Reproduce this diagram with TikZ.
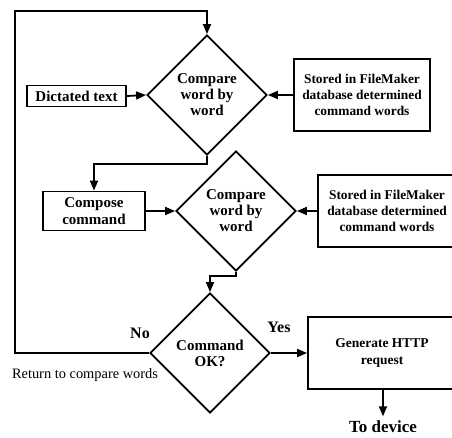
\documentclass[tikz,border=0pt]{standalone}
\usepackage{fontspec}
\setmainfont{Liberation Serif}
\usetikzlibrary{arrows.meta,shapes.geometric}
\begin{document}
\begin{tikzpicture}[x=1pt,y=-1pt,
  line width=1.8pt,
  arr/.style={-{Triangle[length=10pt,width=8pt]}},
  dia/.style={diamond,draw,inner sep=0pt,minimum width=120pt,minimum height=120pt,align=center,font=\fontsize{15}{16}\selectfont\bfseries},
  bx/.style={draw,inner sep=0pt,align=center},
  bigt/.style={font=\fontsize{15}{17}\selectfont\bfseries},
  smallt/.style={font=\fontsize{13.4}{16}\selectfont\bfseries},
  lbl/.style={inner sep=0pt,font=\fontsize{16}{18}\selectfont\bfseries}]
\useasboundingbox (0,0) rectangle (452,438);
\clip (0,0) rectangle (452,438);
% diamonds
\node[dia] (d1) at (207,95) {Compare\\word by\\word};
\node[dia] (d2) at (236,211) {Compare\\word by\\word};
\node[dia] (d3) at (210,353) {Command\\OK?};
% boxes
\node[bx,bigt,minimum width=99pt,minimum height=21pt] (dict) at (76.5,96) {Dictated text};
\node[bx,smallt,minimum width=136pt,minimum height=72pt] (st1) at (362,95) {Stored in FileMaker\\database determined\\command words};
\node[bx,bigt,minimum width=102pt,minimum height=39pt] (comp) at (94,211) {Compose\\command};
\node[bx,smallt,minimum width=138pt,minimum height=72pt] (st2) at (387,211) {Stored in FileMaker\\database determined\\command words};
\node[bx,font=\fontsize{13.5}{17}\selectfont\bfseries,minimum width=148pt,minimum height=72pt] (gen) at (382,353) {Generate HTTP\\request};
% labels
\node[lbl] (no) at (140,333) {No};
\node[lbl] (yes) at (279,327) {Yes};
\node[inner sep=0pt,font=\fontsize{14.4}{16}\selectfont] (ret) at (85,375) {Return to compare words};
\node[inner sep=0pt,font=\fontsize{17}{19}\selectfont\bfseries,anchor=base] (dev) at (383,432) {To device};
% coordinates
\coordinate (lb) at (15,353);
\coordinate (lt) at (15,11);
\coordinate (j1) at (207,164);
\coordinate (j2) at (236,276);
% connectors
\draw[arr] (d3.west) -- (lb) -- (lt) -| (d1.north);
\draw[arr] (dict.east) -- (d1.west);
\draw[arr] (st1.west) -- (d1.east);
\draw[arr] (d1.south) -- (j1) -| (comp.north);
\draw[arr] (comp.east) -- (comp.east -| d2.west);
\draw[arr] (st2.west) -- (d2.east);
\draw[arr] (d2.south) -- (j2) -| (d3.north);
\draw[arr] (d3.east) -- (d3.east -| gen.west);
\draw[arr,shorten >=3pt] (gen.south -| dev.north) -- (dev.north);
\end{tikzpicture}
\end{document}
